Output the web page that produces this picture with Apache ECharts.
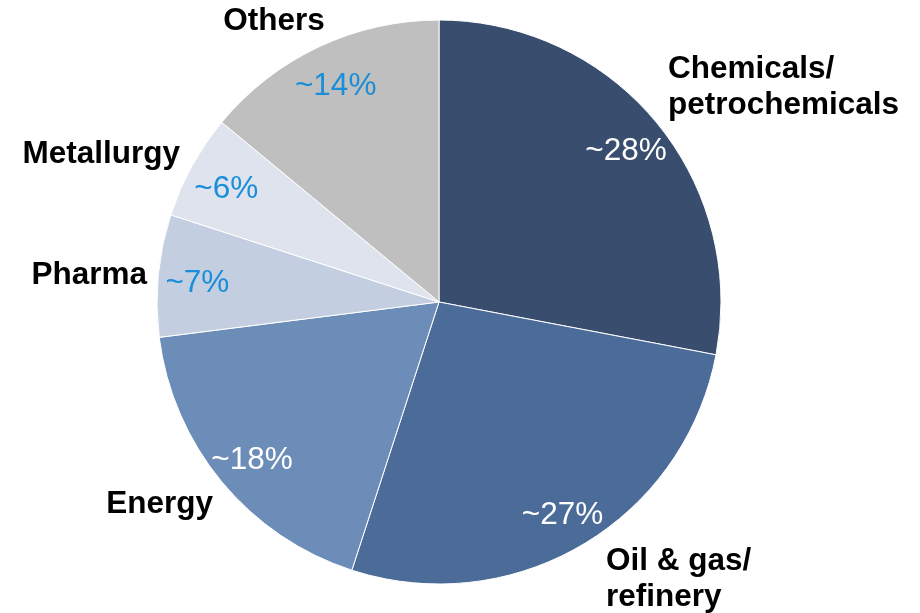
<!DOCTYPE html>
<html>
<head>
<meta charset="utf-8">
<script src="https://cdn.jsdelivr.net/npm/echarts@6/dist/echarts.min.js"></script>
<style>
  html, body { margin: 0; padding: 0; background: #fff; }
  #chart { width: 920px; height: 613px; }
</style>
</head>
<body>
<div id="chart"></div>
<script>
// Industry split of the market (approximate shares, %)
const sectors = ['Chemicals/\npetrochemicals', 'Oil & gas/\nrefinery', 'Energy', 'Pharma', 'Metallurgy', 'Others'];
const shares = [28, 27, 18, 7, 6, 14];
const shareLabels = ['~28%', '~27%', '~18%', '~7%', '~6%', '~14%'];

const sliceColors = ['#394d6e', '#4b6b99', '#6d8db9', '#c4cee1', '#dee3ee', '#bfbfbf'];
const pctColors = ['#ffffff', '#ffffff', '#ffffff', '#1a8ed8', '#1a8ed8', '#1a8ed8'];

// Where each category name sits around the pie: [x, y, align]
const namePlacement = [
  [668, 87, 'left'],
  [606, 579, 'left'],
  [213, 504, 'right'],
  [147, 275, 'right'],
  [180, 154, 'right'],
  [274, 21, 'center']
];

const CX = 439, CY = 302, R = 282;
const FONT = '"Liberation Sans", Arial, sans-serif';

const chart = echarts.init(document.getElementById('chart'), null, { renderer: 'canvas' });

const pieData = sectors.map((name, i) => ({
  name,
  value: shares[i],
  itemStyle: { color: sliceColors[i] }
}));

const pctData = sectors.map((name, i) => ({
  name,
  value: shares[i],
  label: { color: pctColors[i] }
}));

chart.setOption({
  animation: false,
  series: [
    {
      type: 'pie',
      center: [CX, CY],
      radius: [0, R],
      startAngle: 90,
      clockwise: true,
      silent: true,
      itemStyle: { borderColor: '#ffffff', borderWidth: 1 },
      label: {
        show: true,
        position: 'outside',
        formatter: p => p.name,
        fontFamily: FONT,
        fontWeight: 'bold',
        fontSize: 31.5,
        lineHeight: 36,
        color: '#000000',
        overflow: 'none',
        width: 400
      },
      labelLine: { show: false },
      labelLayout: params => {
        const p = namePlacement[params.dataIndex];
        return { x: p[0], y: p[1], align: p[2], verticalAlign: 'middle' };
      },
      data: pieData
    },
    {
      // transparent ring that carries the share labels at ~0.85 of the radius
      type: 'pie',
      center: [CX, CY],
      radius: [R * 0.7, R],
      startAngle: 90,
      clockwise: true,
      silent: true,
      itemStyle: { color: 'rgba(0,0,0,0)', borderWidth: 0 },
      label: {
        show: true,
        position: 'inside',
        formatter: p => shareLabels[p.dataIndex],
        fontFamily: FONT,
        fontSize: 31.5,
        overflow: 'none',
        offset: [0, 4]
      },
      labelLine: { show: false },
      data: pctData
    }
  ]
});
</script>
</body>
</html>
